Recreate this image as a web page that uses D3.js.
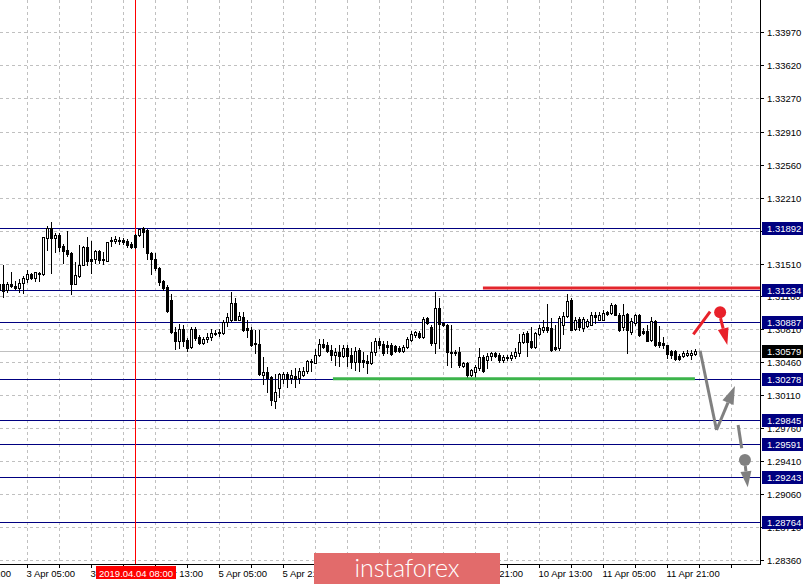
<!DOCTYPE html>
<html><head><meta charset="utf-8">
<script src="https://cdn.jsdelivr.net/npm/d3@7"></script>
<style>html,body{margin:0;padding:0;background:#fff}svg{display:block}</style>
</head><body>
<svg id="chart" width="806" height="584"></svg>
<script>
// ---- DATA (GBPUSD H1, first bar = 2019.04.02 22:00, bar index -1) ----
const firstBarIndex = -1;
const open = [1.31293,1.31293,1.31229,1.31293,1.31271,1.31253,1.31300,1.31346,1.31396,1.31359,1.31396,1.31396,1.31784,1.31884,1.31778,1.31813,1.31696,1.31654,1.31619,1.31293,1.31381,1.31494,1.31689,1.31558,1.31558,1.31646,1.31555,1.31540,1.31760,1.31746,1.31760,1.31763,1.31753,1.31714,1.31813,1.31813,1.31884,1.31866,1.31625,1.31555,1.31466,1.31324,1.31264,1.31123,1.30786,1.30690,1.30811,1.30698,1.30620,1.30811,1.30733,1.30669,1.30705,1.30726,1.30769,1.30769,1.30775,1.30892,1.30910,1.31087,1.30910,1.30945,1.30822,1.30804,1.30662,1.30652,1.30326,1.30361,1.30304,1.30053,1.30184,1.30286,1.30336,1.30299,1.30315,1.30294,1.30329,1.30365,1.30478,1.30453,1.30541,1.30655,1.30641,1.30594,1.30541,1.30570,1.30524,1.30613,1.30535,1.30464,1.30594,1.30488,1.30471,1.30453,1.30570,1.30684,1.30655,1.30641,1.30641,1.30631,1.30613,1.30584,1.30620,1.30701,1.30747,1.30772,1.30733,1.30928,1.30839,1.30662,1.31034,1.30875,1.30857,1.30573,1.30573,1.30573,1.30424,1.30450,1.30326,1.30361,1.30403,1.30520,1.30485,1.30531,1.30556,1.30538,1.30485,1.30509,1.30503,1.30528,1.30556,1.30679,1.30769,1.30687,1.30626,1.30758,1.30804,1.30839,1.30822,1.30626,1.30609,1.30854,1.30949,1.31126,1.30818,1.30924,1.30825,1.30843,1.30860,1.30960,1.30913,1.30913,1.30995,1.30984,1.31066,1.30966,1.30832,1.30974,1.30783,1.30878,1.30966,1.30796,1.30790,1.30701,1.30903,1.30676,1.30666,1.30641,1.30577,1.30577,1.30524,1.30524,1.30541,1.30535,1.30549];
const high = [1.31314,1.31494,1.31314,1.31423,1.31328,1.31342,1.31378,1.31441,1.31413,1.31420,1.31423,1.31792,1.31909,1.31948,1.31834,1.31834,1.31718,1.31856,1.31633,1.31529,1.31707,1.31696,1.31795,1.31753,1.31654,1.31654,1.31636,1.31739,1.31789,1.31803,1.31795,1.31784,1.31771,1.31739,1.31824,1.31877,1.31895,1.31877,1.31636,1.31619,1.31473,1.31335,1.31282,1.31186,1.30839,1.30868,1.30857,1.30719,1.30832,1.30832,1.30751,1.30733,1.30769,1.30811,1.30804,1.30811,1.30910,1.30981,1.31211,1.31141,1.30998,1.30998,1.30910,1.30832,1.30804,1.30804,1.30520,1.30411,1.30315,1.30336,1.30344,1.30361,1.30361,1.30382,1.30400,1.30397,1.30411,1.30485,1.30499,1.30605,1.30711,1.30711,1.30676,1.30641,1.30609,1.30648,1.30641,1.30641,1.30613,1.30623,1.30613,1.30570,1.30538,1.30676,1.30719,1.30719,1.30684,1.30684,1.30666,1.30648,1.30634,1.30644,1.30726,1.30790,1.30796,1.30793,1.30945,1.30942,1.30857,1.31211,1.31141,1.30889,1.30868,1.30857,1.30591,1.30626,1.30464,1.30464,1.30389,1.30432,1.30609,1.30538,1.30556,1.30573,1.30570,1.30556,1.30538,1.30538,1.30573,1.30609,1.30758,1.30786,1.30793,1.30839,1.30786,1.30857,1.30910,1.31077,1.30928,1.30857,1.30953,1.30995,1.31186,1.31144,1.30939,1.30945,1.30942,1.30924,1.30995,1.30995,1.30995,1.31019,1.31009,1.31091,1.31080,1.30984,1.31080,1.30984,1.30931,1.30974,1.30974,1.30825,1.30854,1.30939,1.30910,1.30843,1.30726,1.30644,1.30594,1.30594,1.30549,1.30584,1.30594,1.30594,1.30605];
const low = [1.31123,1.31154,1.31208,1.31261,1.31236,1.31211,1.31200,1.31314,1.31342,1.31328,1.31328,1.31390,1.31654,1.31406,1.31636,1.31646,1.31519,1.31590,1.31186,1.31290,1.31370,1.31490,1.31494,1.31406,1.31512,1.31519,1.31505,1.31537,1.31696,1.31728,1.31718,1.31718,1.31689,1.31675,1.31675,1.31803,1.31689,1.31555,1.31399,1.31441,1.31282,1.31229,1.30995,1.30769,1.30599,1.30609,1.30634,1.30584,1.30613,1.30698,1.30655,1.30655,1.30676,1.30698,1.30751,1.30740,1.30765,1.30846,1.30899,1.30905,1.30905,1.30798,1.30733,1.30634,1.30556,1.30326,1.30230,1.30145,1.30007,1.29975,1.30095,1.30241,1.30198,1.30241,1.30195,1.30241,1.30315,1.30344,1.30365,1.30448,1.30528,1.30613,1.30570,1.30488,1.30435,1.30418,1.30517,1.30418,1.30400,1.30382,1.30365,1.30407,1.30347,1.30443,1.30541,1.30613,1.30541,1.30559,1.30541,1.30570,1.30570,1.30570,1.30613,1.30690,1.30729,1.30719,1.30716,1.30868,1.30644,1.30556,1.30609,1.30846,1.30432,1.30414,1.30538,1.30414,1.30411,1.30308,1.30315,1.30308,1.30379,1.30358,1.30397,1.30485,1.30517,1.30467,1.30461,1.30485,1.30485,1.30509,1.30531,1.30662,1.30528,1.30609,1.30609,1.30751,1.30786,1.30786,1.30585,1.30591,1.30591,1.30761,1.30945,1.30804,1.30804,1.30807,1.30790,1.30836,1.30854,1.30878,1.30905,1.30905,1.30960,1.30974,1.30960,1.30796,1.30807,1.30559,1.30761,1.30857,1.30737,1.30761,1.30687,1.30690,1.30631,1.30620,1.30613,1.30506,1.30506,1.30488,1.30488,1.30517,1.30524,1.30499,1.30538];
const close = [1.31229,1.31221,1.31293,1.31271,1.31253,1.31306,1.31353,1.31396,1.31359,1.31417,1.31413,1.31789,1.31884,1.31778,1.31813,1.31689,1.31646,1.31611,1.31293,1.31388,1.31494,1.31689,1.31537,1.31540,1.31646,1.31548,1.31548,1.31736,1.31746,1.31771,1.31753,1.31742,1.31704,1.31682,1.31685,1.31874,1.31848,1.31619,1.31555,1.31459,1.31317,1.31247,1.31009,1.30786,1.30690,1.30811,1.30690,1.30609,1.30811,1.30716,1.30669,1.30705,1.30733,1.30769,1.30772,1.30783,1.30892,1.30945,1.31087,1.30910,1.30953,1.30804,1.30804,1.30644,1.30652,1.30336,1.30361,1.30299,1.30055,1.30148,1.30333,1.30336,1.30286,1.30326,1.30288,1.30365,1.30365,1.30478,1.30464,1.30541,1.30655,1.30620,1.30577,1.30541,1.30570,1.30524,1.30613,1.30524,1.30464,1.30584,1.30464,1.30464,1.30453,1.30570,1.30684,1.30648,1.30559,1.30620,1.30549,1.30577,1.30584,1.30620,1.30711,1.30761,1.30783,1.30726,1.30917,1.30875,1.30662,1.31034,1.30864,1.30857,1.30573,1.30556,1.30556,1.30432,1.30450,1.30326,1.30379,1.30414,1.30520,1.30368,1.30531,1.30556,1.30531,1.30485,1.30520,1.30514,1.30538,1.30573,1.30679,1.30758,1.30679,1.30626,1.30769,1.30822,1.30839,1.30804,1.30591,1.30599,1.30928,1.30949,1.31115,1.30807,1.30913,1.30832,1.30924,1.30896,1.30960,1.30939,1.30966,1.30984,1.30974,1.31066,1.30966,1.30807,1.30966,1.30807,1.30896,1.30966,1.30754,1.30772,1.30690,1.30903,1.30648,1.30648,1.30641,1.30549,1.30535,1.30499,1.30499,1.30559,1.30559,1.30559,1.30579];

const priceTicks = [1.33970,1.33620,1.33270,1.32910,1.32560,1.32210,1.31860,1.31510,1.31160,1.30810,1.30460,1.30110,1.29760,1.29410,1.29060,1.28710,1.28360];
const timeTickBars = [-10,6,22,38,54,70,118,134,150,166];
const timeTickLabels = ["2 Apr 13:00","3 Apr 05:00","3 Apr 21:00","4 Apr 13:00","5 Apr 05:00","5 Apr 21:00","9 Apr 21:00","10 Apr 13:00","11 Apr 05:00","11 Apr 21:00"];
const levelPrices = [1.31892,1.31234,1.30887,1.30278,1.29845,1.29591,1.29243,1.28764];
const lastPrice = 1.30579;
const crosshairBar = 33;
const crosshairLabel = "2019.04.04 08:00";
// annotations (bar index, price)
const resistance = {from:119.9, to:200, price:1.31250};
const support = {from:82.4, to:172.9, price:1.30285};
const redStroke = [[172.5,1.30758],[176.7,1.30998]];
const redDot = [179.2,1.30992];
const redArrow = [[179.3,1.30931],[181.0,1.30644]];
const grayPath = [[174.2,1.30584],[178.3,1.29741]];
const grayArrow = [[178.3,1.29741],[182.9,1.30209]];
const grayDash = [[183.7,1.29794],[184.6,1.29547]];
const grayDot = [185.4,1.29423];
const grayArrow2 = [[185.5,1.29359],[186.1,1.29133]];

// ---- LAYOUT ----
const plotR = 760, plotB = 564;
const svg = d3.select("#chart");
const x = d3.scaleLinear().domain([0,190]).range([3.33,763.33]);
const y = d3.scaleLinear().domain([1.28360,1.33970]).range([560,32]);
const px = v => Math.round(x(v));
const py = v => Math.round(y(v));
const FONT = "'Liberation Sans', Arial, sans-serif";
const gridCol = "#c0c0c0", navy = "#000080";

svg.append("defs").append("clipPath").attr("id","plot")
  .append("rect").attr("x",0).attr("y",0).attr("width",plotR).attr("height",plotB);

const g = svg.append("g").attr("clip-path","url(#plot)");

// grid
g.selectAll(".hg").data(priceTicks).join("line")
  .attr("x1",0).attr("x2",plotR).attr("y1",d=>py(d)+0.5).attr("y2",d=>py(d)+0.5)
  .attr("stroke",gridCol).attr("stroke-dasharray","3,3").attr("shape-rendering","crispEdges");
const vGrid = d3.range(-2,190,8);
g.selectAll(".vg").data(vGrid).join("line")
  .attr("x1",d=>px(d)+0.5).attr("x2",d=>px(d)+0.5).attr("y1",0).attr("y2",plotB)
  .attr("stroke",gridCol).attr("stroke-dasharray","3,3").attr("shape-rendering","crispEdges");

// last price line
g.append("line").attr("x1",0).attr("x2",plotR)
  .attr("y1",py(lastPrice)+0.5).attr("y2",py(lastPrice)+0.5)
  .attr("stroke","#c0c0c0").attr("shape-rendering","crispEdges");

// levels
g.selectAll(".lv").data(levelPrices).join("line")
  .attr("x1",0).attr("x2",plotR).attr("y1",d=>py(d)+0.5).attr("y2",d=>py(d)+0.5)
  .attr("stroke",navy).attr("shape-rendering","crispEdges");

// crosshair vertical
g.append("line").attr("x1",px(crosshairBar)+0.5).attr("x2",px(crosshairBar)+0.5)
  .attr("y1",0).attr("y2",plotB).attr("stroke","#ff0000").attr("shape-rendering","crispEdges");

// candles
const bars = open.map((o,i)=>({k:i+firstBarIndex,o,h:high[i],l:low[i],c:close[i]}));
const cg = g.append("g");
bars.forEach(b=>{
  const cx = px(b.k);
  cg.append("line").attr("x1",cx+0.5).attr("x2",cx+0.5)
    .attr("y1",py(b.h)).attr("y2",py(b.l)+1).attr("stroke","#000").attr("shape-rendering","crispEdges");
  const top = py(Math.max(b.o,b.c)), bot = py(Math.min(b.o,b.c));
  if (b.c > b.o) {
    cg.append("rect").attr("x",cx-0.5).attr("y",top+0.5).attr("width",2).attr("height",Math.max(bot-top,1))
      .attr("fill","#fff").attr("stroke","#000").attr("shape-rendering","crispEdges");
  } else {
    cg.append("rect").attr("x",cx-1).attr("y",top).attr("width",3).attr("height",Math.max(bot-top+1,1))
      .attr("fill","#000").attr("shape-rendering","crispEdges");
  }
});

// resistance / support bars
g.append("line").attr("x1",x(resistance.from)).attr("x2",x(resistance.to))
  .attr("y1",y(resistance.price)).attr("y2",y(resistance.price))
  .attr("stroke","#e3262d").attr("stroke-width",3);
g.append("line").attr("x1",x(support.from)).attr("x2",x(support.to))
  .attr("y1",y(support.price)).attr("y2",y(support.price))
  .attr("stroke","#3cb44b").attr("stroke-width",3);

// annotation helpers
function seg(pts,col,w,dash){
  const l = svg.append("line").attr("x1",x(pts[0][0])).attr("y1",y(pts[0][1]))
    .attr("x2",x(pts[1][0])).attr("y2",y(pts[1][1])).attr("stroke",col).attr("stroke-width",w);
  if(dash) l.attr("stroke-dasharray",dash);
}
function arrow(pts,col,w,len,hw){
  const x1=x(pts[0][0]),y1=y(pts[0][1]),x2=x(pts[1][0]),y2=y(pts[1][1]);
  const dx=x2-x1,dy=y2-y1,L=Math.hypot(dx,dy),ux=dx/L,uy=dy/L;
  const bx=x2-ux*len,by=y2-uy*len;
  svg.append("line").attr("x1",x1).attr("y1",y1).attr("x2",bx).attr("y2",by)
    .attr("stroke",col).attr("stroke-width",w);
  svg.append("path").attr("d",`M${x2},${y2}L${bx-uy*hw},${by+ux*hw}L${bx+uy*hw},${by-ux*hw}Z`).attr("fill",col);
}
const red="#e8212a", gray="#808080";
seg(redStroke,red,3);
svg.append("circle").attr("cx",x(redDot[0])).attr("cy",y(redDot[1])).attr("r",6).attr("fill",red);
arrow(redArrow,red,3,17,5.5);
seg(grayPath,gray,3);
arrow(grayArrow,gray,3,18,6);
seg(grayDash,gray,3);
svg.append("circle").attr("cx",x(grayDot[0])).attr("cy",y(grayDot[1])).attr("r",6).attr("fill",gray);
arrow(grayArrow2,gray,3,16,5.5);

// axes lines
svg.append("line").attr("x1",plotR+0.5).attr("x2",plotR+0.5).attr("y1",0).attr("y2",plotB+1)
  .attr("stroke","#000").attr("shape-rendering","crispEdges");
svg.append("line").attr("x1",0).attr("x2",plotR+1).attr("y1",plotB+0.5).attr("y2",plotB+0.5)
  .attr("stroke","#000").attr("shape-rendering","crispEdges");

// right axis ticks & labels
svg.selectAll(".yt").data(priceTicks).join("line")
  .attr("x1",plotR).attr("x2",plotR+4).attr("y1",d=>py(d)+0.5).attr("y2",d=>py(d)+0.5)
  .attr("stroke","#000").attr("shape-rendering","crispEdges");
svg.selectAll(".yl").data(priceTicks).join("text")
  .attr("x",767).attr("y",d=>py(d)+4).text(d=>d.toFixed(5))
  .attr("font-family",FONT).attr("font-size","9.5px").attr("fill","#000");

function priceBox(p,bg){
  const yc = py(p);
  svg.append("rect").attr("x",762).attr("y",yc-6).attr("width",41).attr("height",13).attr("fill",bg);
  svg.append("text").attr("x",767).attr("y",yc+4).text(p.toFixed(5))
    .attr("font-family",FONT).attr("font-size","9.5px").attr("fill","#fff");
}
levelPrices.forEach(p=>priceBox(p,navy));
priceBox(lastPrice,"#000");

// bottom ticks & labels
svg.selectAll(".xt").data(vGrid.filter(d=>px(d)>=0&&px(d)<=plotR)).join("line")
  .attr("x1",d=>px(d)+0.5).attr("x2",d=>px(d)+0.5).attr("y1",plotB).attr("y2",plotB+4)
  .attr("stroke","#000").attr("shape-rendering","crispEdges");
svg.selectAll(".xl").data(timeTickBars).join("text")
  .attr("x",d=>px(d)-0.5).attr("y",577).text((d,i)=>timeTickLabels[i])
  .attr("font-family",FONT).attr("font-size","9.5px").attr("fill","#000");

// crosshair date label
const cxp = px(crosshairBar);
svg.append("rect").attr("x",cxp-39).attr("y",566).attr("width",80).attr("height",13).attr("fill","#ff0000");
svg.append("text").attr("x",cxp+1).attr("y",577).attr("text-anchor","middle").text(crosshairLabel)
  .attr("font-family",FONT).attr("font-size","9.5px").attr("fill","#fff");

// watermark logo
svg.append("rect").attr("x",314).attr("y",553).attr("width",186).attr("height",31).attr("fill","#e26b6b");
svg.append("text").attr("x",407).attr("y",577).attr("text-anchor","middle").text("instaforex")
  .attr("font-family","Lato, 'Open Sans', sans-serif").attr("font-weight",300).attr("font-size","25px").attr("fill","#fff");
</script>
</body></html>
